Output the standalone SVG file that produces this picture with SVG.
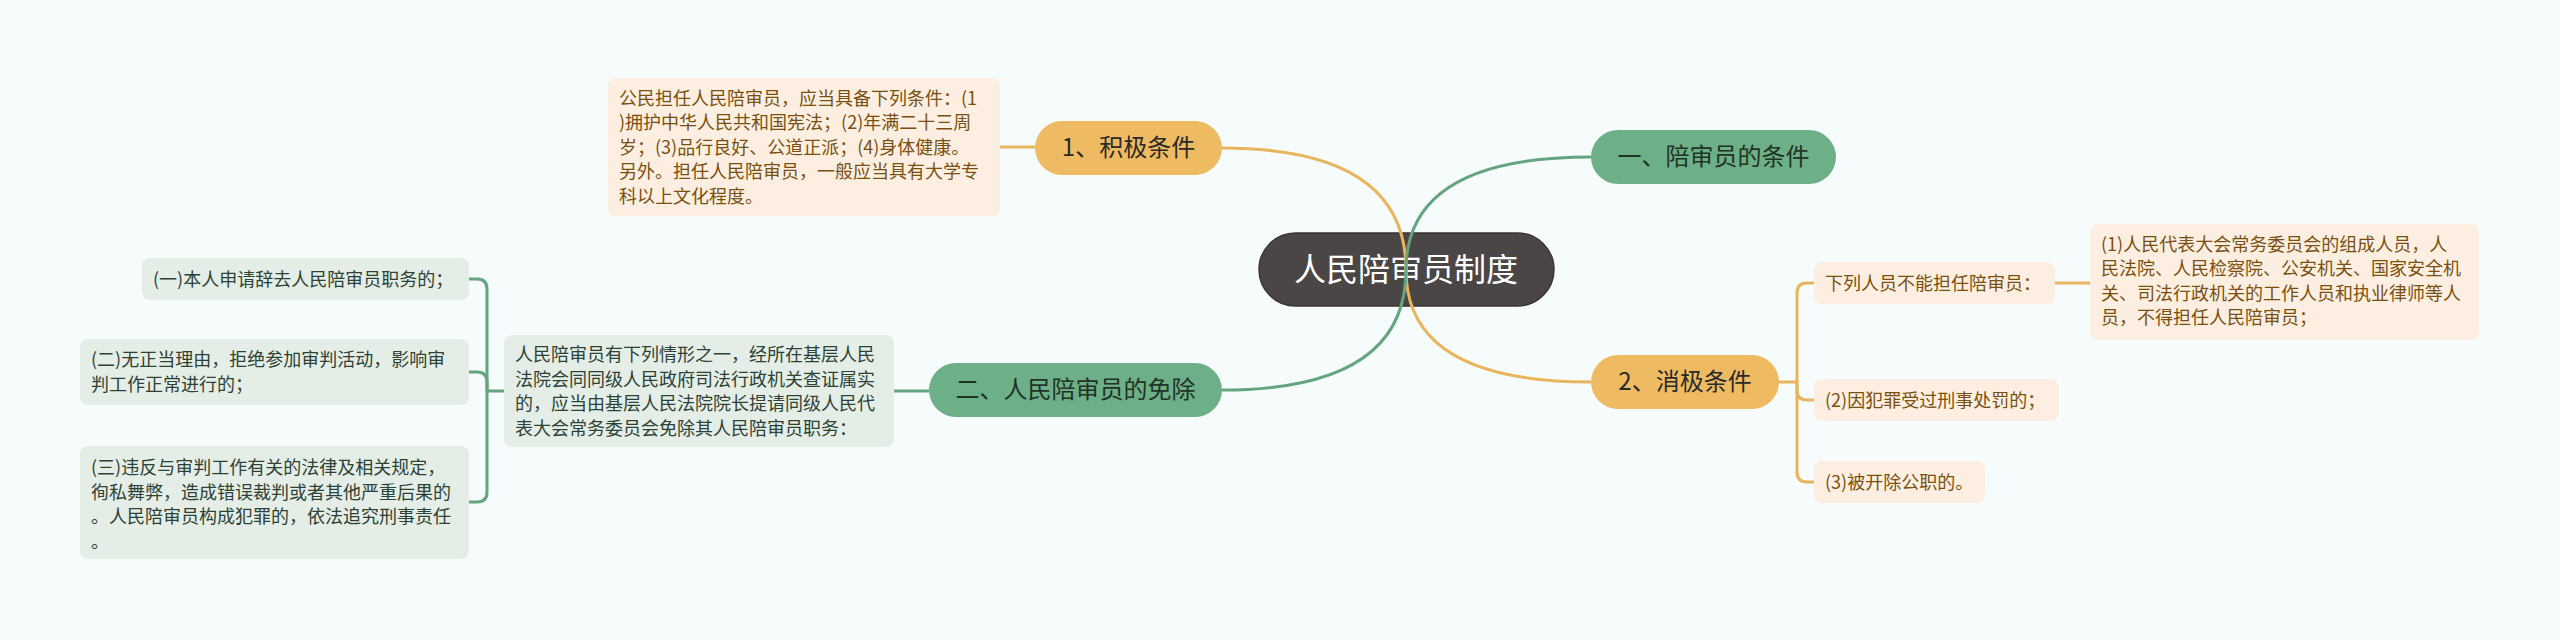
<svg xmlns="http://www.w3.org/2000/svg" width="2560" height="640" viewBox="0 0 2560 640">
<style>
text{font-family:"Noto Sans CJK SC","Noto Sans",sans-serif}
.root{fill:#4b4646;stroke:#3a3535;stroke-width:1.5}
.rt{fill:#ffffff;font-size:32px;text-anchor:middle}
.ob{fill:#efbb62}
.gb{fill:#6daf86}
.mt{fill:#2a2a2a;font-size:24px;text-anchor:middle}
.gt{fill:#1f3326;font-size:24px;text-anchor:middle}
.pb{fill:#fcefe1}
.lb{fill:#e4eee7}
.pt{fill:#7a5010;font-size:18px}
.lt{fill:#2d4235;font-size:18px}
.oc{fill:none;stroke:#e8b55c;stroke-width:3}
.gc{fill:none;stroke:#64a47e;stroke-width:3}
</style>
<rect width="2560" height="640" fill="#f6fbfb"/>
<g id="root">
<rect class="root" x="1259" y="233" width="295" height="73" rx="36.5"/>
<text class="rt" x="1406" y="281">人民陪审员制度</text>
</g>
<g id="connectors">
<path class="oc" d="M1406,270 Q1406,148 1222,148"/>
<path class="oc" d="M1406,270 Q1406,382 1591,382"/>
<path class="gc" d="M1406,270 Q1406,157 1591,157"/>
<path class="gc" d="M1406,270 Q1406,390 1222,390"/>
<path class="oc" d="M1000,147 L1035,147"/>
<path class="oc" d="M1778,382 L1797,382"/>
<path class="oc" d="M1797,382 L1797,293 Q1797,283 1807,283 L1814,283"/>
<path class="oc" d="M1797,382 L1797,390 Q1797,400 1807,400 L1814,400"/>
<path class="oc" d="M1797,382 L1797,472 Q1797,482 1807,482 L1814,482"/>
<path class="oc" d="M2055,283 L2090,283"/>
<path class="gc" d="M894,391 L929,391"/>
<path class="gc" d="M504,391 L487,391"/>
<path class="gc" d="M487,391 L487,289 Q487,279 477,279 L469,279"/>
<path class="gc" d="M487,391 L487,382 Q487,372 477,372 L469,372"/>
<path class="gc" d="M487,391 L487,492 Q487,502 477,502 L469,502"/>
</g>
<g id="n1">
<rect class="ob" x="1035" y="121" width="187" height="54" rx="27"/>
<text class="mt" x="1128.5" y="156">1、积极条件</text>
</g>
<g id="n1a">
<rect class="pb" x="608" y="78" width="392" height="138" rx="8"/>
<text class="pt" x="619" y="104.5">公民担任人民陪审员，应当具备下列条件：(1<tspan x="619" dy="24.5">)拥护中华人民共和国宪法；(2)年满二十三周</tspan><tspan x="619" dy="24.5">岁；(3)品行良好、公道正派；(4)身体健康。</tspan><tspan x="619" dy="24.5">另外。担任人民陪审员，一般应当具有大学专</tspan><tspan x="619" dy="24.5">科以上文化程度。</tspan></text>
</g>
<g id="n2">
<rect class="gb" x="1591" y="130" width="245" height="54" rx="27"/>
<text class="gt" x="1713.5" y="165">一、陪审员的条件</text>
</g>
<g id="n3">
<rect class="ob" x="1591" y="355" width="188" height="54" rx="27"/>
<text class="mt" x="1685" y="390">2、消极条件</text>
</g>
<g id="n3a">
<rect class="pb" x="1814" y="262" width="241" height="42" rx="8"/>
<text class="pt" x="1825" y="289.5">下列人员不能担任陪审员：</text>
</g>
<g id="n3a1">
<rect class="pb" x="2090" y="224" width="389" height="116" rx="8"/>
<text class="pt" x="2101" y="250.5">(1)人民代表大会常务委员会的组成人员，人<tspan x="2101" dy="24.5">民法院、人民检察院、公安机关、国家安全机</tspan><tspan x="2101" dy="24.5">关、司法行政机关的工作人员和执业律师等人</tspan><tspan x="2101" dy="24.5">员，不得担任人民陪审员；</tspan></text>
</g>
<g id="n3b">
<rect class="pb" x="1814" y="379" width="245" height="42" rx="8"/>
<text class="pt" x="1825" y="406.5">(2)因犯罪受过刑事处罚的；</text>
</g>
<g id="n3c">
<rect class="pb" x="1814" y="461" width="171" height="42" rx="8"/>
<text class="pt" x="1825" y="488.5">(3)被开除公职的。</text>
</g>
<g id="n4">
<rect class="gb" x="929" y="363" width="293" height="54" rx="27"/>
<text class="gt" x="1075.5" y="398">二、人民陪审员的免除</text>
</g>
<g id="n4a">
<rect class="lb" x="504" y="335" width="390" height="112" rx="8"/>
<text class="lt" x="515" y="361">人民陪审员有下列情形之一，经所在基层人民<tspan x="515" dy="24.5">法院会同同级人民政府司法行政机关查证属实</tspan><tspan x="515" dy="24.5">的，应当由基层人民法院院长提请同级人民代</tspan><tspan x="515" dy="24.5">表大会常务委员会免除其人民陪审员职务：</tspan></text>
</g>
<g id="n4a1">
<rect class="lb" x="142" y="258" width="327" height="42" rx="8"/>
<text class="lt" x="153" y="285.5">(一)本人申请辞去人民陪审员职务的；</text>
</g>
<g id="n4a2">
<rect class="lb" x="80" y="339" width="389" height="66" rx="8"/>
<text class="lt" x="91" y="366">(二)无正当理由，拒绝参加审判活动，影响审<tspan x="91" dy="24.5">判工作正常进行的；</tspan></text>
</g>
<g id="n4a3">
<rect class="lb" x="80" y="446" width="389" height="113" rx="8"/>
<text class="lt" x="91" y="474">(三)违反与审判工作有关的法律及相关规定，<tspan x="91" dy="24.5">徇私舞弊，造成错误裁判或者其他严重后果的</tspan><tspan x="91" dy="24.5">。人民陪审员构成犯罪的，依法追究刑事责任</tspan><tspan x="91" dy="24.5">。</tspan></text>
</g>
</svg>
